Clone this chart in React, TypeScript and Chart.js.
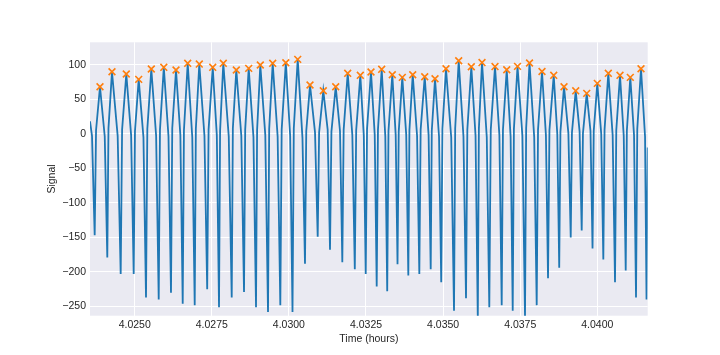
import React, { useEffect, useRef } from "react";
import { Chart, registerables } from "chart.js";

Chart.register(...registerables);

// ---- Data (time in hours, signal in arbitrary units) ----
const startTime = [4.023551, 4.023616];
const startValue = [18, -3];

const troughTime = [
  4.023703, 4.024112, 4.024546, 4.024968, 4.025367, 4.025779, 4.026177, 4.026557,
  4.026946, 4.027351, 4.027734, 4.028146, 4.028545, 4.028934, 4.029323, 4.029722,
  4.030117, 4.030522, 4.030934, 4.031333, 4.031732, 4.032137, 4.032491, 4.032847,
  4.033188, 4.033522, 4.033872, 4.034229, 4.034598, 4.034939, 4.035354, 4.035743,
  4.036125, 4.036498, 4.0369, 4.037257, 4.037656, 4.038035, 4.038402, 4.038765,
  4.039138, 4.039494, 4.039845, 4.040195, 4.040574, 4.040921, 4.041255, 4.041596,
];
const troughValue = [
  -147, -179, -203, -203, -237, -240, -230, -246, -248, -225, -251, -237, -229, -251, -258, -248,
  -258, -188, -149, -168, -186, -196, -203, -221, -228, -189, -205, -203, -196, -215, -256, -238,
  -268, -251, -248, -256, -266, -248, -209, -194, -150, -140, -166, -182, -215, -198, -237, -240,
];

const riseTime = [
  4.023747, 4.02415, 4.024592, 4.025009, 4.02541, 4.02582, 4.026218, 4.026597,
  4.026983, 4.027396, 4.027769, 4.028183, 4.028583, 4.028969, 4.029361, 4.029766,
  4.030159, 4.030563, 4.03098, 4.031379, 4.031776, 4.032182, 4.032534, 4.032888,
  4.033229, 4.033561, 4.033908, 4.034272, 4.034633, 4.034978, 4.035392, 4.035786,
  4.03616, 4.036545, 4.036941, 4.037296, 4.037693, 4.038078, 4.038448, 4.038804,
  4.039178, 4.039535, 4.039884, 4.040235, 4.040615, 4.040958, 4.041296,
];
const riseValue = [
  5, 8, 6, 4, 7, 6, 8, 5, 7, 6, 4, 8, 6, 5, 7, 6,
  8, 4, 2, 3, 6, 5, 7, 6, 4, 3, 5, 6, 4, 7, 8, 6,
  7, 5, 6, 7, 8, 6, 5, 3, 2, 1, 4, 6, 5, 4, 7,
];

const peakTime = [
  4.023875, 4.024264, 4.024728, 4.02513, 4.025539, 4.025944, 4.02634, 4.026719,
  4.027095, 4.02753, 4.027873, 4.028295, 4.028697, 4.029073, 4.029475, 4.0299,
  4.030286, 4.030685, 4.031116, 4.031518, 4.031907, 4.032316, 4.032662, 4.033009,
  4.033353, 4.033677, 4.034015, 4.034404, 4.034738, 4.035094, 4.035506, 4.035915,
  4.036262, 4.036683, 4.037063, 4.037413, 4.037802, 4.038207, 4.038587, 4.038921,
  4.0393, 4.039657, 4.04, 4.040357, 4.040736, 4.04107, 4.041417,
];
const peakValue = [
  68, 89.7, 86.4, 78.7, 93.6, 96.1, 92.2, 101.9, 100.8, 96.1, 101.9, 92.2, 94.6, 99.4, 101.9, 102.7,
  107.6, 70.5, 62.2, 68, 87.4, 84.5, 89.3, 93.2, 85.4, 81.6, 85.4, 82.5, 79.6, 94, 105.6, 96.9,
  103, 97.2, 92.6, 97.5, 102.3, 90, 84.5, 68, 62.1, 58.4, 72.9, 87.4, 84.5, 81.6, 94,
];

const shoulderTime = [
  4.024029, 4.024448, 4.024884, 4.025284, 4.025695, 4.026096, 4.026481, 4.026867,
  4.027262, 4.027663, 4.02805, 4.028457, 4.028851, 4.029235, 4.029635, 4.030041,
  4.03044, 4.030847, 4.031257, 4.031657, 4.032057, 4.032429, 4.032783, 4.033126,
  4.033463, 4.033804, 4.034156, 4.03453, 4.034868, 4.035263, 4.03566, 4.036052,
  4.036416, 4.036825, 4.037189, 4.037571, 4.037954, 4.038334, 4.038703, 4.039062,
  4.039426, 4.039779, 4.040127, 4.040498, 4.040857, 4.041191, 4.041548,
];
const shoulderValue = [
  -4, -3, -2, -5, -3, -4, -2, -5, -3, -2, -4, -3, -5, -2, -4, -3,
  -6, 2, 6, 4, -2, -3, -1, -4, -2, -1, -3, -2, -4, -5, -4, -3,
  -5, -2, -4, -3, -5, -2, -1, 1, 3, 4, 0, -2, -3, -2, -4,
];

const endTime = [4.041634];
const endValue = [-20];

const xTickValues = [4.025, 4.0275, 4.03, 4.0325, 4.035, 4.0375, 4.04];
const yTickValues = [-250, -200, -150, -100, -50, 0, 50, 100];
const xLimits = [4.023551, 4.041634];
const yLimits = [-263.3, 132.3];

const FONT = "'Liberation Sans', Arial, 'DejaVu Sans', sans-serif";
const TEXT = "#262626";

function buildSignal() {
  const pts: { x: number; y: number }[] = [];
  startTime.forEach((t, i) => pts.push({ x: t, y: startValue[i] }));
  for (let i = 0; i < troughTime.length; i++) {
    pts.push({ x: troughTime[i], y: troughValue[i] });
    if (i < peakTime.length) {
      pts.push({ x: riseTime[i], y: riseValue[i] });
      pts.push({ x: peakTime[i], y: peakValue[i] });
      pts.push({ x: shoulderTime[i], y: shoulderValue[i] });
    }
  }
  endTime.forEach((t, i) => pts.push({ x: t, y: endValue[i] }));
  return pts;
}

const bgPlugin = {
  id: "axesBg",
  beforeDraw(chart: any) {
    const { ctx, chartArea } = chart;
    if (!chartArea) return;
    ctx.save();
    ctx.fillStyle = "#EAEAF2";
    ctx.fillRect(chartArea.left, chartArea.top, chartArea.right - chartArea.left, chartArea.bottom - chartArea.top);
    ctx.restore();
  },
};

export default function App() {
  const ref = useRef<HTMLCanvasElement | null>(null);
  useEffect(() => {
    if (!ref.current) return;
    const chart = new Chart(ref.current, {
      type: "line",
      data: {
        datasets: [
          {
            type: "scatter",
            data: peakTime.map((t, i) => ({ x: t, y: peakValue[i] })),
            pointStyle: "crossRot",
            pointRadius: 4.8,
            pointBorderWidth: 1.6,
            borderColor: "#ff7f0e",
            backgroundColor: "#ff7f0e",
            pointBorderColor: "#ff7f0e",
            showLine: false,
            order: 0,
          } as any,
          {
            type: "line",
            data: buildSignal(),
            borderColor: "#1f77b4",
            borderWidth: 1.8,
            pointRadius: 0,
            tension: 0,
            fill: false,
            order: 1,
          },
        ],
      },
      options: {
        animation: false,
        responsive: false,
        maintainAspectRatio: false,
        parsing: false as any,
        normalized: true,
        layout: { padding: { top: 42.3, right: 72.3, left: 0, bottom: 0 } },
        plugins: { legend: { display: false }, tooltip: { enabled: false } },
        scales: {
          x: {
            type: "linear",
            min: xLimits[0],
            max: xLimits[1],
            afterBuildTicks: (s: any) => {
              s.ticks = xTickValues.map((v) => ({ value: v }));
            },
            afterFit: (s: any) => {
              s.height = 39.3;
            },
            grid: { color: "#ffffff", lineWidth: 1, drawTicks: false },
            border: { display: false },
            ticks: {
              padding: 3,
              color: TEXT,
              autoSkip: false,
              maxRotation: 0,
              font: { family: FONT, size: 10.5 },
              callback: (v: any) => Number(v).toFixed(4),
            },
            title: {
              display: true,
              text: "Time (hours)",
              color: TEXT,
              font: { family: FONT, size: 10.5 },
              padding: { top: 0, bottom: 9.4 },
            },
          },
          y: {
            type: "linear",
            min: yLimits[0],
            max: yLimits[1],
            afterBuildTicks: (s: any) => {
              s.ticks = yTickValues.map((v) => ({ value: v }));
            },
            afterFit: (s: any) => {
              s.width = 90;
            },
            grid: { color: "#ffffff", lineWidth: 1, drawTicks: false },
            border: { display: false },
            ticks: {
              padding: 4,
              color: TEXT,
              font: { family: FONT, size: 10.5 },
              callback: (v: any) => (Number(v) < 0 ? "\u2212" + Math.abs(Number(v)) : String(v)),
            },
            title: {
              display: true,
              text: "Signal",
              color: TEXT,
              font: { family: FONT, size: 10.5 },
              padding: { top: 45.5, bottom: 0 },
            },
          },
        },
      },
      plugins: [bgPlugin],
    });
    return () => chart.destroy();
  }, []);
  return (
    <div style={{ position: "fixed", left: 0, top: 0, width: 720, height: 355, background: "#fff" }}>
      <canvas ref={ref} width={720} height={355} style={{ display: "block", width: 720, height: 355 }} />
    </div>
  );
}
